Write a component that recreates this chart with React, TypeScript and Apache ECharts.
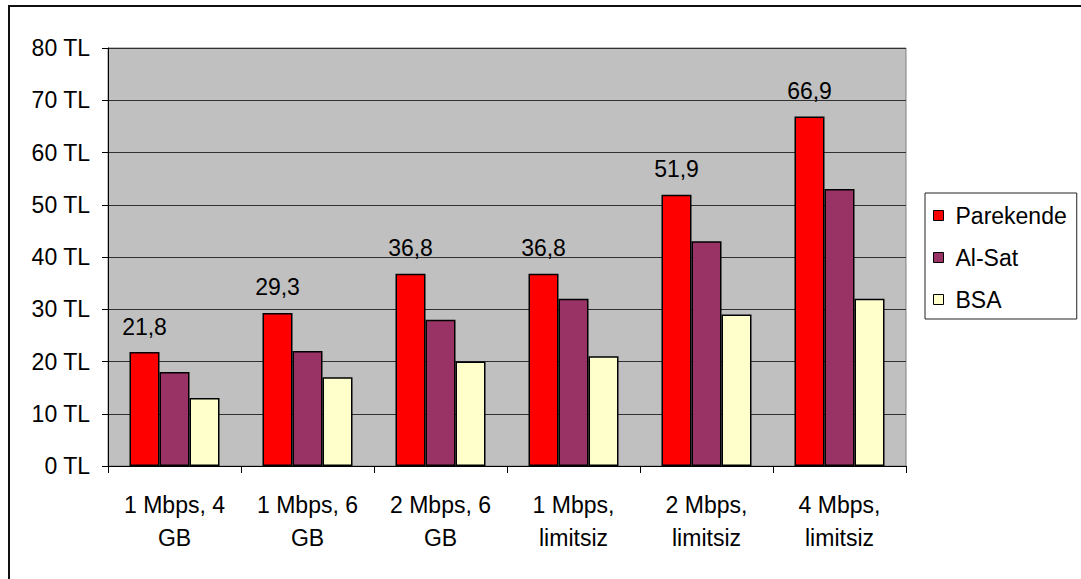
import React, { useEffect, useRef } from "react";
import * as echarts from "echarts";

const categories = [
  "1 Mbps, 4\nGB",
  "1 Mbps, 6\nGB",
  "2 Mbps, 6\nGB",
  "1 Mbps,\nlimitsiz",
  "2 Mbps,\nlimitsiz",
  "4 Mbps,\nlimitsiz",
];
const parekende = [21.8, 29.3, 36.8, 36.8, 51.9, 66.9];
const alSat = [18, 22, 28, 32, 43, 53];
const bsa = [13, 17, 20, 21, 29, 32];
const seriesNames = ["Parekende", "Al-Sat", "BSA"];
const seriesColors = ["#FF0000", "#993366", "#FFFFCC"];

const FONT = "'Liberation Sans', Arial, sans-serif";

export default function App() {
  const ref = useRef<HTMLDivElement>(null);

  useEffect(() => {
    if (!ref.current) return;
    const chart = echarts.init(ref.current, undefined, { renderer: "svg" });
    const barBase = {
      type: "bar" as const,
      barWidth: 30,
      barGap: "0%",
    };
    const datasets = [parekende, alSat, bsa];
    chart.setOption({
      animation: false,
      backgroundColor: "#ffffff",
      textStyle: { fontFamily: FONT },
      graphic: [
        {
          type: "rect",
          shape: { x: 9, y: 6, width: 1100, height: 600 },
          style: { fill: "none", stroke: "#111", lineWidth: 2 },
          silent: true,
        },
      ],
      grid: {
        left: 108,
        right: 175,
        top: 48,
        bottom: 113,
        show: true,
        backgroundColor: "#C0C0C0",
        borderColor: "#808080",
        borderWidth: 1,
      },
      legend: {
        orient: "vertical",
        left: 925,
        top: 193,
        data: seriesNames,
        icon: "rect",
        itemWidth: 10,
        itemHeight: 10,
        itemGap: 19,
        padding: [11, 10, 8, 8],
        borderColor: "#222",
        borderWidth: 1,
        backgroundColor: "#ffffff",
        itemStyle: { borderColor: "#000", borderWidth: 1 },
        textStyle: {
          fontFamily: FONT,
          fontSize: 23,
          lineHeight: 23,
          color: "#000",
          padding: [0, 0, 0, 7],
        },
      },
      xAxis: {
        type: "category",
        data: categories,
        axisLine: { lineStyle: { color: "#000", width: 1 } },
        axisTick: { show: true, length: 7, lineStyle: { color: "#000" } },
        axisLabel: {
          fontFamily: FONT,
          fontSize: 23,
          lineHeight: 33,
          color: "#000",
          margin: 22,
          interval: 0,
          align: "center",
        },
      },
      yAxis: {
        type: "value",
        min: 0,
        max: 80,
        interval: 10,
        axisLine: { show: true, lineStyle: { color: "#000", width: 1 } },
        axisTick: { show: true, length: 6, lineStyle: { color: "#000" } },
        splitLine: { show: true, lineStyle: { color: "#303030", width: 1 } },
        axisLabel: {
          fontFamily: FONT,
          fontSize: 23,
          color: "#000",
          margin: 18,
          formatter: "{value} TL",
        },
      },
      series: seriesNames.map((name, i) => ({
        ...barBase,
        name,
        data: datasets[i],
        itemStyle: {
          color: seriesColors[i],
          borderColor: "#000",
          borderWidth: 1.5,
        },
        label:
          i === 0
            ? {
                show: true,
                position: "top",
                distance: 14,
                fontFamily: FONT,
                fontSize: 23,
                color: "#000",
                formatter: (p: any) => String(p.value).replace(".", ","),
              }
            : { show: false },
      })),
    });
    return () => chart.dispose();
  }, []);

  return (
    <div
      ref={ref}
      style={{ position: "absolute", left: 0, top: 0, width: 1081, height: 579 }}
    />
  );
}
